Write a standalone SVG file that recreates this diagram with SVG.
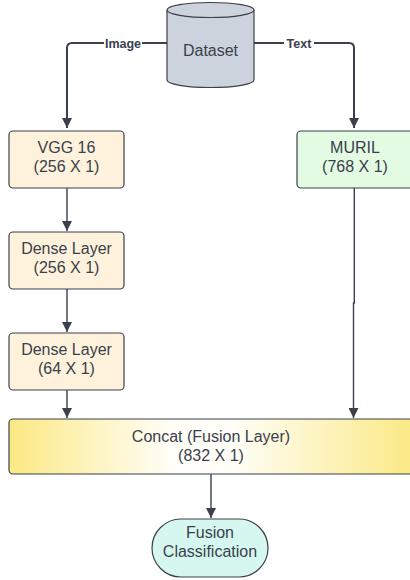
<svg xmlns="http://www.w3.org/2000/svg" width="410" height="580" viewBox="0 0 410 580">
<style>
.lbl{font-family:"Liberation Sans",Arial,sans-serif;font-size:16px;fill:#3a414c;text-anchor:middle}
.elbl{font-family:"Liberation Sans",Arial,sans-serif;font-size:12.5px;font-weight:bold;fill:#3a414c;text-anchor:middle}
.box{stroke:#3a414c;stroke-width:1.2}
.conn{fill:none;stroke:#3a414c;stroke-width:1.4}
.thick{stroke-width:2}
</style>
<defs>
<marker id="ah" viewBox="0 0 10 10" refX="10" refY="5" markerWidth="10" markerHeight="10" markerUnits="userSpaceOnUse" orient="auto">
<path d="M0,0 L10,5 L0,10 z" fill="#3a414c"/>
</marker>
<linearGradient id="yg" x1="0" y1="0" x2="1" y2="0">
<stop offset="0" stop-color="#fbe983"/>
<stop offset="0.4" stop-color="#fffef8"/>
<stop offset="0.55" stop-color="#fffef8"/>
<stop offset="1" stop-color="#fbe983"/>
</linearGradient>
</defs>
<g id="connectors">
<path class="conn thick" d="M167,43 H72 Q67,43 67,48 V128" marker-end="url(#ah)"/>
<path class="conn thick" d="M254,43 H349 Q354,43 354,48 V128" marker-end="url(#ah)"/>
<rect x="104" y="36" width="38" height="14" fill="#fff"/>
<text class="elbl" x="123" y="47.5">Image</text>
<rect x="284" y="36" width="30" height="14" fill="#fff"/>
<text class="elbl" x="299" y="47.5">Text</text>
<path class="conn" d="M67,188 V231" marker-end="url(#ah)"/>
<path class="conn" d="M67,289 V332" marker-end="url(#ah)"/>
<path class="conn" d="M67,390 V418" marker-end="url(#ah)"/>
<path class="conn" d="M354.3,188 V303 H353.5 V418" marker-end="url(#ah)"/>
<path class="conn" d="M211,474 V518" marker-end="url(#ah)"/>
</g>
<g id="dataset">
<path d="M167,10 V80 A43.5,7.5 0 0 0 254,80 V10" fill="#cdd3dc" class="box"/>
<ellipse cx="210.5" cy="10" rx="43.5" ry="7.5" fill="#cdd3dc" class="box"/>
<text class="lbl" x="210.5" y="56">Dataset</text>
</g>
<g id="vgg16">
<rect x="9" y="131" width="115" height="57" rx="4" fill="#fff2dc" class="box"/>
<text class="lbl" x="66.5" y="153">VGG 16</text>
<text class="lbl" x="66.5" y="172">(256 X 1)</text>
</g>
<g id="muril">
<rect x="297" y="131" width="118" height="57" rx="4" fill="#e3fbe3" class="box"/>
<text class="lbl" x="355" y="153">MURIL</text>
<text class="lbl" x="355" y="172">(768 X 1)</text>
</g>
<g id="dense1">
<rect x="9" y="232" width="115" height="57" rx="4" fill="#fff2dc" class="box"/>
<text class="lbl" x="66.5" y="254">Dense Layer</text>
<text class="lbl" x="66.5" y="273">(256 X 1)</text>
</g>
<g id="dense2">
<rect x="9" y="333" width="115" height="57" rx="4" fill="#fff2dc" class="box"/>
<text class="lbl" x="66.5" y="355">Dense Layer</text>
<text class="lbl" x="66.5" y="374">(64 X 1)</text>
</g>
<g id="concat">
<rect x="9" y="419" width="406" height="55" rx="4" fill="url(#yg)" class="box"/>
<text class="lbl" x="211" y="442">Concat (Fusion Layer)</text>
<text class="lbl" x="211" y="461">(832 X 1)</text>
</g>
<g id="fusion">
<rect x="152" y="519" width="116" height="58" rx="29" fill="#d5f7f0" class="box"/>
<text class="lbl" x="210" y="538">Fusion</text>
<text class="lbl" x="210" y="557">Classification</text>
</g>
</svg>
